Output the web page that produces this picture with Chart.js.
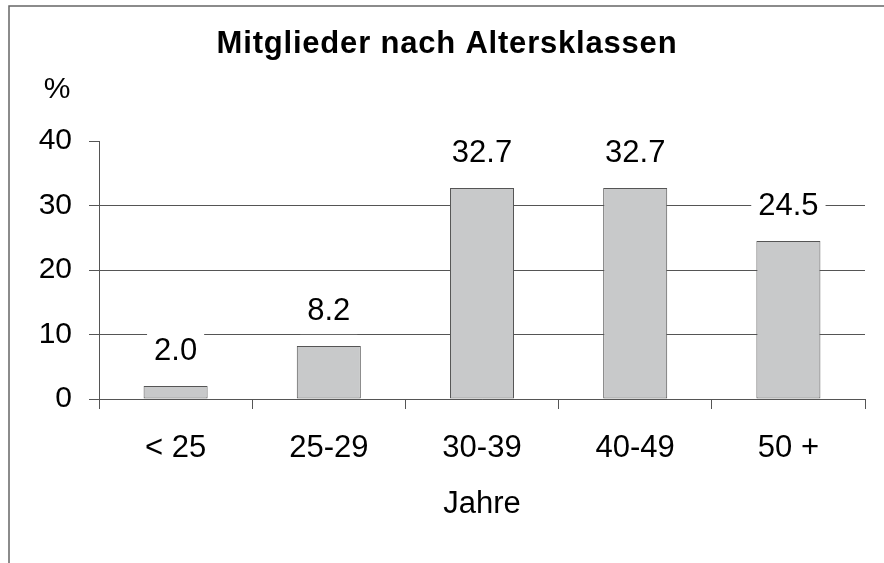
<!DOCTYPE html>
<html>
<head>
<meta charset="utf-8">
<script src="https://cdn.jsdelivr.net/npm/chart.js@4"></script>
<style>
  html, body { margin: 0; padding: 0; background: #fff; }
  #wrap { width: 884px; height: 563px; position: relative; }
</style>
</head>
<body>
<div id="wrap"><canvas id="c" width="884" height="563"></canvas></div>
<script>
const titleText = 'Mitglieder nach Altersklassen';
const unitLabel = '%';
const xAxisTitle = 'Jahre';
const categories = ['< 25', '25-29', '30-39', '40-49', '50 +'];
const shares = [2.0, 8.2, 32.7, 32.7, 24.5];
const yTicks = [0, 10, 20, 30, 40];

const FONT = '"Liberation Sans", Arial, Helvetica, sans-serif';
const LINE = '#555555';

const decorPlugin = {
  id: 'decor',
  beforeDraw(chart) {
    const ctx = chart.ctx;
    ctx.save();
    ctx.fillStyle = '#fff';
    ctx.fillRect(0, 0, chart.width, chart.height);
    // frame (top and left)
    ctx.strokeStyle = '#666';
    ctx.lineWidth = 1.5;
    ctx.beginPath();
    ctx.moveTo(9, chart.height);
    ctx.lineTo(9, 6);
    ctx.lineTo(chart.width, 6);
    ctx.stroke();
    // title
    ctx.fillStyle = '#000';
    ctx.font = 'bold 31px ' + FONT;
    try { ctx.letterSpacing = '0.8px'; } catch (e) {}
    ctx.textAlign = 'center';
    ctx.textBaseline = 'middle';
    ctx.fillText(titleText, 447, 44);
    try { ctx.letterSpacing = '0px'; } catch (e) {}
    // unit label
    ctx.font = '30px ' + FONT;
    ctx.fillText(unitLabel, 57, 90);
    ctx.restore();
  },
  afterDatasetsDraw(chart) {
    const ctx = chart.ctx;
    const meta = chart.getDatasetMeta(0);
    ctx.save();
    ctx.font = '31px ' + FONT;
    ctx.textAlign = 'center';
    ctx.textBaseline = 'middle';
    meta.data.forEach((bar, i) => {
      const txt = shares[i].toFixed(1);
      const w = ctx.measureText(txt).width + 14;
      const cy = bar.y - 35;
      ctx.fillStyle = '#fff';
      ctx.fillRect(bar.x - w / 2, cy - 23, w, 46);
      ctx.fillStyle = '#000';
      ctx.fillText(txt, bar.x, cy);
    });
    ctx.restore();
  }
};

new Chart(document.getElementById('c'), {
  type: 'bar',
  data: {
    labels: categories,
    datasets: [{
      data: shares,
      backgroundColor: '#c8c9ca',
      borderColor: LINE,
      borderWidth: 1,
      borderSkipped: false,
      categoryPercentage: 1,
      barPercentage: 0.418
    }]
  },
  options: {
    responsive: false,
    animation: false,
    devicePixelRatio: 1,
    layout: { padding: { top: 141, left: 0, right: 19, bottom: 0 } },
    plugins: {
      legend: { display: false },
      tooltip: { enabled: false },
      title: { display: false }
    },
    scales: {
      x: {
        afterFit(s) { s.height = 164; },
        grid: {
          offset: true,
          drawOnChartArea: false,
          drawTicks: true,
          tickLength: 10,
          color: LINE,
          tickColor: LINE
        },
        border: { display: true, color: LINE, width: 1 },
        ticks: {
          color: '#000',
          padding: 21,
          font: { family: FONT, size: 31 }
        },
        title: {
          display: true,
          text: xAxisTitle,
          color: '#000',
          font: { family: FONT, size: 31 },
          padding: { top: 0, bottom: 40 }
        }
      },
      y: {
        min: 0,
        max: 40,
        afterFit(s) { s.width = 99; },
        afterBuildTicks(s) { s.ticks = yTicks.map(v => ({ value: v })); },
        grid: {
          drawTicks: true,
          tickLength: 10,
          color: (c) => (c.tick && c.tick.value === 40) ? 'rgba(0,0,0,0)' : LINE,
          tickColor: LINE
        },
        border: { display: true, color: LINE, width: 1 },
        ticks: {
          color: '#000',
          padding: 17,
          font: { family: FONT, size: 30 },
          callback: (v) => String(v)
        }
      }
    }
  },
  plugins: [decorPlugin]
});
</script>
</body>
</html>
